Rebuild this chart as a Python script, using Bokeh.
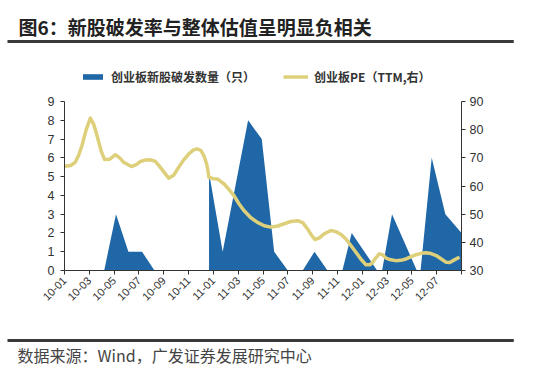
import math
from bokeh.plotting import figure
from bokeh.models import (Range1d, LinearAxis, FixedTicker, Legend, LegendItem,
                          ColumnDataSource, Label)
from bokeh.embed import file_html
from bokeh.resources import INLINE

# ---- data (x in months since 2010-01) ----
tick_pos = [0, 2, 4, 6, 8, 10, 12, 14, 16, 18, 20, 22, 24, 26, 28, 30, 32]
tick_labels = ["10-01", "10-03", "10-05", "10-07", "10-09", "10-11",
               "11-01", "11-03", "11-05", "11-07", "11-09", "11-11",
               "12-01", "12-03", "12-05", "12-07", ""]
left_ticks = [0, 1, 2, 3, 4, 5, 6, 7, 8, 9]
right_ticks = [30, 40, 50, 60, 70, 80, 90]

# 创业板新股破发数量（只）
broken_m = [0, 3.2, 4.15, 5.15, 6.25, 7.25, 11.65, 11.65, 12.75, 14.8, 15.9, 16.9,
            18.0, 19.2, 20.15, 21.2, 22.4, 23.15, 25.2, 25.6, 26.4, 28.4, 28.7,
            29.6, 30.7, 32]
broken_n = [0, 0, 3, 1, 1, 0, 0, 5.2, 1, 8, 7, 1,
            0, 0, 1, 0, 0, 2, 0, 0, 3, 0, 0,
            6, 3, 2]

# 创业板PE（TTM，右）
pe_m = [0, 0.5, 0.86, 1.15, 1.41, 1.75, 2.08, 2.35, 2.62, 2.95, 3.23, 3.65, 4.1, 4.45,
        4.77, 5.39, 5.75, 6.12, 6.5, 6.93, 7.3, 7.6, 8.0, 8.4, 8.8, 9.21, 9.6, 10.02,
        10.4, 10.7, 11.0, 11.23, 11.45, 11.56, 11.64, 12.0, 12.32, 12.85, 13.25, 13.66,
        14.05, 14.46, 15.0, 15.55, 16.1, 16.62, 17.2, 17.7, 18.25, 18.78, 19.2, 19.59,
        19.9, 20.18, 20.55, 20.93, 21.47, 21.87, 22.3, 22.68, 23.1, 23.49, 23.9, 24.3,
        24.6, 24.84, 25.1, 25.37, 25.65, 25.91, 26.3, 26.72, 27.1, 27.53, 27.95, 28.34,
        28.75, 29.15, 29.55, 29.96, 30.4, 30.77, 31.05, 31.31, 31.6, 31.84]
pe_v = [67.0, 67.3, 68.4, 71.0, 74.4, 80.0, 84.1, 82.0, 77.9, 72.5, 69.4, 69.5, 71.1, 70.0,
        68.4, 66.9, 67.5, 68.7, 69.2, 69.3, 68.8, 67.3, 65.0, 62.8, 63.8, 66.7, 69.2, 71.4,
        72.8, 73.2, 72.6, 70.8, 68.0, 65.5, 63.1, 62.6, 62.5, 60.8, 58.8, 56.6,
        53.8, 51.3, 48.8, 47.1, 45.9, 45.4, 45.8, 46.6, 47.4, 47.7, 47.0, 44.8,
        42.6, 41.0, 41.6, 43.0, 44.2, 43.8, 42.8, 41.2, 38.8, 36.5, 34.0, 32.0,
        32.0, 32.9, 34.5, 35.9, 35.6, 34.4, 33.8, 33.5, 33.6, 34.1, 34.9, 35.6,
        36.1, 36.3, 36.0, 35.3, 34.0, 32.9, 32.8, 33.5, 34.2, 34.7]

title_text = "图6：新股破发率与整体估值呈明显负相关"
source_text = "数据来源：Wind，广发证券发展研究中心"
series1_name = "创业板新股破发数量（只）"
series2_name = "创业板PE（TTM,右）"

BLUE = "#1F67A6"
YELLOW = "#DED07A"
AXIS = "#333333"
RULE = "#3A3A3A"
LATIN = "Liberation Sans"
CJK = "Noto Sans CJK SC"

# layout: plotting area is 169 px tall; the frame extends 57 px above it
AREA_H, EXTRA_TOP = 169, 57
FRAME_H = AREA_H + EXTRA_TOP
scale_up = FRAME_H / AREA_H
L0, L1 = left_ticks[0], left_ticks[-1]
R0, R1 = right_ticks[0], right_ticks[-1]

p = figure(frame_width=397, frame_height=FRAME_H,
           x_range=Range1d(tick_pos[0], tick_pos[-1]),
           y_range=Range1d(L0, L0 + (L1 - L0) * scale_up),
           output_backend="svg", toolbar_location=None,
           min_border_left=64, min_border_right=93, min_border_top=44,
           min_border_bottom=104, background_fill_color="white",
           border_fill_color="white", outline_line_color=None)
p.extra_y_ranges = {"pe": Range1d(R0, R0 + (R1 - R0) * scale_up)}
p.xgrid.grid_line_color = None
p.ygrid.grid_line_color = None

src_b = ColumnDataSource(dict(m=broken_m, n=broken_n))
src_p = ColumnDataSource(dict(m=pe_m, v=pe_v))
r1 = p.varea(x="m", y1=0, y2="n", source=src_b, fill_color=BLUE)
r2 = p.line(x="m", y="v", source=src_p, y_range_name="pe", line_color=YELLOW,
            line_width=3.5, line_join="round")


def style_axis(ax, size="12.5px"):
    ax.axis_line_color = AXIS
    ax.major_tick_line_color = AXIS
    ax.minor_tick_line_color = None
    ax.major_tick_in = 0
    ax.major_tick_out = 4
    ax.major_label_text_font = LATIN
    ax.major_label_text_font_size = size
    ax.major_label_text_color = "#333333"


yl = p.yaxis[0]
yl.ticker = FixedTicker(ticks=left_ticks)
yl.bounds = (L0, L1)
style_axis(yl)
yl.major_label_standoff = 6

yr = LinearAxis(y_range_name="pe", ticker=FixedTicker(ticks=right_ticks), bounds=(R0, R1))
style_axis(yr)
yr.major_label_standoff = 4
p.add_layout(yr, "right")

xa = p.xaxis[0]
xa.ticker = FixedTicker(ticks=tick_pos)
xa.major_label_overrides = {t: l for t, l in zip(tick_pos, tick_labels)}
style_axis(xa, "11px")
xa.major_label_orientation = math.pi / 4
xa.major_label_standoff = 4

legend = Legend(items=[LegendItem(label=series1_name, renderers=[r1]),
                       LegendItem(label=series2_name, renderers=[r2])],
                orientation="horizontal", location=(14, 183),
                label_text_font=CJK, label_text_font_size="12px",
                label_text_font_style="bold", label_text_color="#333333",
                glyph_width=25, glyph_height=7, spacing=28, label_standoff=6,
                border_line_alpha=0, background_fill_alpha=0, margin=0, padding=2)
p.add_layout(legend, "center")

# ---- title, rules and source note, in canvas units on the side panels ----
p.add_layout(Label(x=18, y=26, x_units="canvas", y_units="canvas", text=title_text,
                   text_font=CJK, text_font_size="19px", text_font_style="bold",
                   text_color="#222222", text_baseline="middle"), "above")
p.add_layout(Label(x=7, y=41, x_units="canvas", y_units="canvas", text=" ",
                   text_font_size="1px", padding=(253, 1), text_baseline="middle",
                   background_fill_color=RULE, background_fill_alpha=1), "above")
p.add_layout(Label(x=7, y=340, x_units="canvas", y_units="canvas", text=" ",
                   text_font_size="1px", padding=(253, 1), text_baseline="middle",
                   background_fill_color=RULE, background_fill_alpha=1), "below")
p.add_layout(Label(x=17, y=354, x_units="canvas", y_units="canvas", text=source_text,
                   text_font=CJK, text_font_size="16px", text_color="#444444",
                   text_baseline="middle"), "below")

open("out.html", "w").write(file_html(p, INLINE))
